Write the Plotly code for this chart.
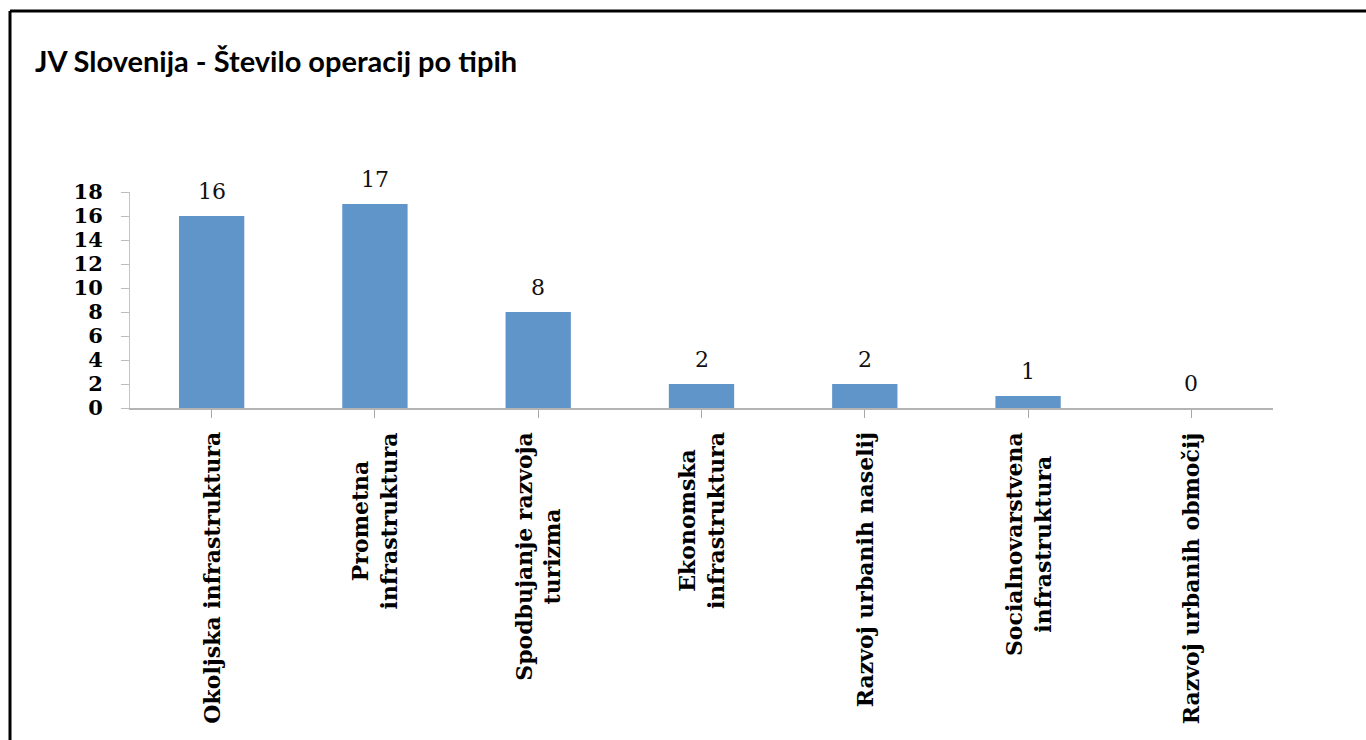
import plotly.graph_objects as go

categories = [
    "Okoljska infrastruktura",
    "Prometna<br>infrastruktura",
    "Spodbujanje razvoja<br>turizma",
    "Ekonomska<br>infrastruktura",
    "Razvoj urbanih naselij",
    "Socialnovarstvena<br>infrastruktura",
    "Razvoj urbanih območij",
]
values = [16, 17, 8, 2, 2, 1, 0]
y_ticks = [0, 2, 4, 6, 8, 10, 12, 14, 16, 18]
title_text = "JV Slovenija - Število operacij po tipih"

W, H = 1366, 740
ml, mr, mt, mb = 130, 93, 192, 332
pw, ph = W - ml - mr, H - mt - mb

def px_x(p):
    return (p - ml) / pw

def px_y(p):
    return (H - mb - p) / ph

serif = "DejaVu Serif"

fig = go.Figure()
fig.add_trace(go.Bar(
    x=list(range(len(categories))),
    y=values,
    marker=dict(color="#5f95c9", line=dict(width=0)),
    width=0.4,
    hoverinfo="skip",
))

annotations = []
for i, (c, v) in enumerate(zip(categories, values)):
    annotations.append(dict(
        x=i, y=v, xref="x", yref="y", text=str(v), showarrow=False,
        yanchor="bottom", xanchor="center", yshift=10,
        font=dict(family=serif, size=22, color="#111111"),
    ))
    annotations.append(dict(
        x=i, y=0, xref="x", yref="y", text="<b>" + c + "</b>", showarrow=False,
        textangle=-90, yanchor="top", xanchor="center", align="center",
        yshift=-22,
        font=dict(family=serif, size=22, color="#000000"),
    ))

fig.update_layout(
    width=W, height=H,
    margin=dict(l=ml, r=mr, t=mt, b=mb),
    paper_bgcolor="white", plot_bgcolor="white",
    showlegend=False,
    title=dict(
        text="<b>" + title_text + "</b>",
        x=35 / W, xanchor="left", xref="container",
        y=1 - 62 / H, yanchor="middle", yref="container",
        font=dict(family="Lato", size=29, color="#000000"),
    ),
    xaxis=dict(
        range=[-0.5, len(categories) - 0.5],
        tickmode="array", tickvals=list(range(len(categories))),
        showticklabels=False,
        tickson="boundaries", ticks="outside", ticklen=8, tickwidth=1,
        tickcolor="#a6a6a6",
        showline=True, linecolor="#b4b4b4", linewidth=2,
        showgrid=False, zeroline=False, fixedrange=True,
    ),
    yaxis=dict(
        range=[0, 18],
        tickmode="array", tickvals=y_ticks,
        ticktext=["<b>%d</b>" % t for t in y_ticks],
        ticks="outside", ticklen=8, tickwidth=1, tickcolor="#bdbdbd",
        ticklabelstandoff=14,
        showline=True, linecolor="#c4c4c4", linewidth=1,
        showgrid=False, zeroline=False,
        tickfont=dict(family=serif, size=21, color="#000000"),
        fixedrange=True,
    ),
    annotations=annotations,
    shapes=[
        dict(type="line", xref="paper", yref="paper",
             x0=px_x(10), x1=px_x(W + 10), y0=px_y(11), y1=px_y(11),
             line=dict(color="black", width=3)),
        dict(type="line", xref="paper", yref="paper",
             x0=px_x(10), x1=px_x(10), y0=px_y(11), y1=px_y(H + 10),
             line=dict(color="black", width=3)),
    ],
)

fig.write_html(
    "out.html",
    config={"displayModeBar": False},
    post_script="document.body.style.margin='0';document.body.style.overflow='hidden';",
)
